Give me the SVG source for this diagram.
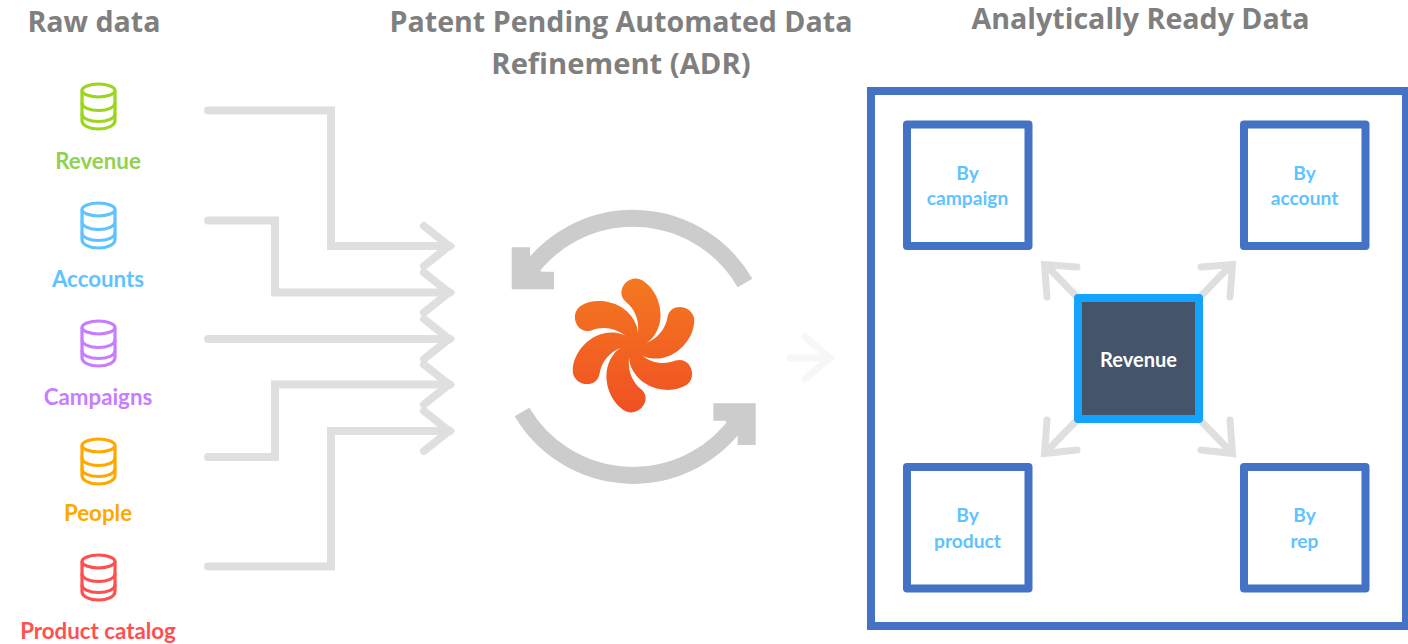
<svg xmlns="http://www.w3.org/2000/svg" width="1408" height="644" viewBox="0 0 1408 644">
<style>
text{font-family:"Open Sans","Noto Sans","Liberation Sans",sans-serif;font-weight:700;text-anchor:middle}
.title{font-size:28.6px;fill:#7f7f7f}
.lab{font-family:Lato,"Open Sans",sans-serif;font-size:22.3px}
.sub{font-family:Lato,"Open Sans",sans-serif;font-size:19.2px;fill:#5fc3ff}
.db{fill:none;stroke-width:3.2}
.flow{fill:none;stroke:#dfdfdf;stroke-width:8;stroke-linecap:round;stroke-linejoin:miter}
.diag{fill:none;stroke:#dfdfdf;stroke-width:7;stroke-linecap:round;stroke-linejoin:miter}
.box{fill:#fff;stroke:#4472c4;stroke-width:8;stroke-linejoin:round}
.cyc{fill:#ccc}
</style>
<defs>
<g id="cyl">
<ellipse cx="0" cy="8" rx="16.5" ry="6.5"/>
<path d="M-16.5,8V38C-16.5,43 -9,46.500 0,46.500S16.500,43 16.500,38V8"/>
<path d="M-16.500,20C-16.500,25 -9,28 0,28S16.500,25 16.500,20"/>
<path d="M-16.500,31C-16.500,36 -9,39 0,39S16.500,36 16.500,31"/>
</g>
<path id="petal" d="M0,0C8,-14 6,-33 -8,-44C-19,-54 -6,-71 7,-66C24,-58 35,-29 20,-9C15,-2 7,1 0,0Z"/>
<clipPath id="swirl">
<use href="#petal" transform="translate(633.500,345.500)"/>
<use href="#petal" transform="translate(633.500,345.500) rotate(60)"/>
<use href="#petal" transform="translate(633.500,345.500) rotate(120)"/>
<use href="#petal" transform="translate(633.500,345.500) rotate(180)"/>
<use href="#petal" transform="translate(633.500,345.500) rotate(240)"/>
<use href="#petal" transform="translate(633.500,345.500) rotate(300)"/>
</clipPath>
<linearGradient id="sw" x1="0" y1="0" x2="0" y2="1"><stop offset="0" stop-color="#f47b20"/><stop offset="1" stop-color="#f04e23"/></linearGradient>
</defs>
<rect width="1408" height="644" fill="#fff"/>
<g id="connectors">
<path class="flow" d="M208,110.500H331V246H450"/>
<path class="flow" d="M208,220.500H275V292.500H450"/>
<path class="flow" d="M208,339H450"/>
<path class="flow" d="M208,457H275V384.500H450"/>
<path class="flow" d="M208,566.500H331V431H450"/>
<path class="flow" d="M424,226L449,246L424,266"/>
<path class="flow" d="M424,272.500L449,292.500L424,312.500"/>
<path class="flow" d="M424,319L449,339L424,359"/>
<path class="flow" d="M424,364.500L449,384.500L424,404.500"/>
<path class="flow" d="M424,411L449,431L424,451"/>
<path d="M790,358H829M805,337L830,358L805,379" fill="none" stroke="#f7f7f7" stroke-width="7" stroke-linecap="round"/>
<path class="diag" d="M1077,297L1046,265M1047,297L1044.500,264.500L1077,267"/>
<path class="diag" d="M1200,297L1231,265M1230,297L1232.500,264.500L1201,267"/>
<path class="diag" d="M1077,420L1046,452M1047,420L1044.500,453.500L1077,450"/>
<path class="diag" d="M1200,420L1231,452M1230,420L1232.500,453.500L1201,450"/>
</g>
<g id="titles">
<text class="title" x="94" y="32">Raw data</text>
<text class="title" x="621" y="32">Patent Pending Automated Data</text>
<text class="title" x="621" y="74" style="font-size:29.200px">Refinement (ADR)</text>
<text class="title" x="1140.500" y="29">Analytically Ready Data</text>
</g>
<g id="node-revenue-source">
<use href="#cyl" class="db" transform="translate(98.500,82.500)" stroke="#9bd61e"/>
<text class="lab" x="98" y="168.500" fill="#92d050">Revenue</text>
</g>
<g id="node-accounts">
<use href="#cyl" class="db" transform="translate(98.500,201.500)" stroke="#5fc3ff"/>
<text class="lab" x="98" y="286.500" fill="#5fc3ff">Accounts</text>
</g>
<g id="node-campaigns">
<use href="#cyl" class="db" transform="translate(98.500,319.500)" stroke="#c77dff"/>
<text class="lab" x="98" y="404.500" fill="#c77dff">Campaigns</text>
</g>
<g id="node-people">
<use href="#cyl" class="db" transform="translate(98.500,437.500)" stroke="#ffa800"/>
<text class="lab" x="98" y="520.500" fill="#ffa800">People</text>
</g>
<g id="node-product">
<use href="#cyl" class="db" transform="translate(98.500,553.500)" stroke="#ff5050"/>
<text class="lab" x="98" y="638.500" fill="#ff5050">Product catalog</text>
</g>
<g id="node-adr">
<path d="M745,283A129,129 0 0 0 527,274" fill="none" stroke="#ccc" stroke-width="17"/>
<polygon class="cyc" points="511.700,247.300 530,247.300 530,259.300 541.700,271.700 554,271.700 554,289.300 511.700,289.300"/>
<path d="M522,412A129,129 0 0 0 739,420" fill="none" stroke="#ccc" stroke-width="17"/>
<polygon class="cyc" points="755.700,403.300 713.300,403.300 713.300,420.700 725,420.700 737.700,432.700 737.700,445 755.700,445"/>
<rect x="565" y="270" width="140" height="150" fill="url(#sw)" clip-path="url(#swirl)"/>
</g>
<g id="node-ready">
<rect x="871" y="91" width="535" height="535" fill="none" stroke="#4472c4" stroke-width="8"/>
</g>
<g id="node-by-campaign">
<rect class="box" x="907" y="124.500" width="121.500" height="121.500"/>
<text class="sub" x="967.500" y="180">By</text><text class="sub" x="967.500" y="205">campaign</text>
</g>
<g id="node-by-account">
<rect class="box" x="1244" y="124.500" width="121.500" height="121.500"/>
<text class="sub" x="1304.500" y="180">By</text><text class="sub" x="1304.500" y="205">account</text>
</g>
<g id="node-by-product">
<rect class="box" x="907" y="467" width="121.500" height="121.500"/>
<text class="sub" x="967.500" y="522">By</text><text class="sub" x="967.500" y="548">product</text>
</g>
<g id="node-by-rep">
<rect class="box" x="1244" y="467" width="121.500" height="121.500"/>
<text class="sub" x="1304.500" y="522">By</text><text class="sub" x="1304.500" y="548">rep</text>
</g>
<g id="node-revenue">
<rect x="1078" y="298" width="121" height="121" fill="#44546a" stroke="#14a3ff" stroke-width="8" stroke-linejoin="round"/>
<text x="1138.500" y="366.500" style="font-family:Lato,'Open Sans',sans-serif;font-size:20px" fill="#fff">Revenue</text>
</g>
</svg>
